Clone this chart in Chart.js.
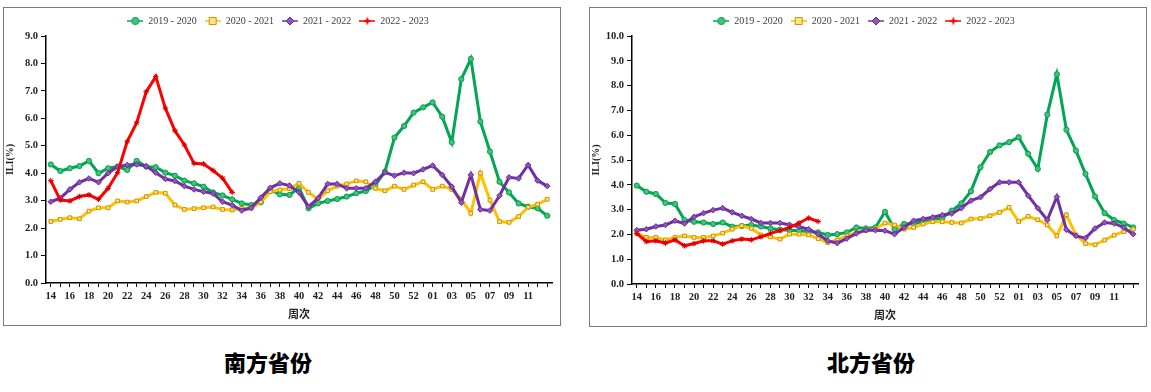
<!DOCTYPE html>
<html><head><meta charset="utf-8">
<script src="https://cdn.jsdelivr.net/npm/chart.js@4.4.1/dist/chart.umd.min.js"></script>
<style>
body{margin:0;background:#fff;width:1151px;height:392px;position:relative;overflow:hidden;}
.box{position:absolute;border:1.5px solid #7a7a7a;box-sizing:border-box;}
.cv{position:absolute;}
.title{position:absolute;font-family:"Noto Sans CJK SC",sans-serif;font-weight:900;font-size:22px;line-height:22px;color:#000;top:350px;width:200px;text-align:center;}
</style></head><body>
<div class="box" style="left:3px;top:7px;width:558px;height:319px"></div>
<div class="box" style="left:589px;top:7px;width:558px;height:320px"></div>
<canvas id="south" class="cv" width="555" height="316" style="left:4px;top:8px"></canvas>
<canvas id="north" class="cv" width="555" height="317" style="left:590px;top:8px"></canvas>
<div class="title" style="left:168px">南方省份</div>
<div class="title" style="left:771px">北方省份</div>
<script>
const weeks = ['14','15','16','17','18','19','20','21','22','23','24','25','26','27','28','29','30','31','32','33','34','35','36','37','38','39','40','41','42','43','44','45','46','47','48','49','50','51','52','53','01','02','03','04','05','06','07','08','09','10','11','12','13'];
const seriesNames = ['2019 - 2020','2020 - 2021','2021 - 2022','2022 - 2023'];

const south2019 = [4.32,4.08,4.18,4.26,4.45,4.00,4.18,4.24,4.12,4.45,4.24,4.22,4.02,3.91,3.73,3.63,3.51,3.30,3.19,3.05,2.90,2.84,2.94,3.39,3.23,3.21,3.47,2.72,2.90,2.99,3.06,3.15,3.27,3.35,3.57,4.06,5.30,5.72,6.21,6.40,6.58,6.06,5.13,7.43,8.17,5.88,4.79,3.69,3.30,2.90,2.78,2.72,2.45];
const south2020 = [2.24,2.32,2.38,2.34,2.62,2.74,2.74,2.99,2.95,2.99,3.15,3.30,3.27,2.84,2.68,2.71,2.74,2.77,2.68,2.66,2.72,2.72,2.95,3.33,3.39,3.44,3.63,3.30,3.05,3.36,3.53,3.61,3.72,3.69,3.45,3.36,3.53,3.41,3.57,3.69,3.41,3.53,3.41,3.05,2.54,4.00,3.02,2.24,2.21,2.42,2.76,2.87,3.05];
const south2021 = [2.96,3.09,3.41,3.67,3.81,3.67,4.00,4.24,4.30,4.32,4.26,4.02,3.79,3.72,3.53,3.41,3.33,3.26,2.96,2.84,2.64,2.74,3.11,3.47,3.63,3.55,3.30,2.78,3.09,3.61,3.61,3.45,3.45,3.45,3.69,4.03,3.91,4.02,4.00,4.14,4.28,3.94,3.51,2.93,3.94,2.68,2.64,3.18,3.85,3.81,4.30,3.73,3.53];
const south2022 = [3.73,3.02,2.99,3.15,3.21,3.05,3.45,4.02,5.15,5.84,6.97,7.52,6.37,5.55,5.03,4.36,4.34,4.10,3.82,3.30];

const north2019 = [3.97,3.72,3.63,3.27,3.23,2.58,2.51,2.48,2.42,2.48,2.31,2.34,2.38,2.32,2.24,2.19,2.17,2.15,2.12,2.08,1.98,2.01,2.08,2.28,2.24,2.28,2.91,2.21,2.42,2.44,2.51,2.58,2.66,2.96,3.25,3.74,4.71,5.32,5.59,5.72,5.92,5.25,4.64,6.83,8.46,6.22,5.38,4.44,3.53,2.86,2.58,2.44,2.28];
const north2020 = [2.04,1.88,1.88,1.78,1.88,1.94,1.88,1.88,1.94,2.05,2.21,2.35,2.24,1.98,1.90,1.81,2.01,2.01,1.98,1.83,1.67,1.78,1.94,2.08,2.15,2.21,2.46,2.38,2.21,2.28,2.42,2.51,2.51,2.48,2.46,2.62,2.64,2.75,2.89,3.09,2.52,2.73,2.59,2.38,1.94,2.79,1.98,1.63,1.58,1.77,1.97,2.11,2.21];
const north2021 = [2.17,2.21,2.32,2.38,2.55,2.44,2.71,2.86,2.98,3.06,2.89,2.75,2.62,2.46,2.46,2.46,2.39,2.31,2.21,2.01,1.74,1.65,1.83,2.04,2.17,2.17,2.15,2.01,2.28,2.55,2.62,2.69,2.78,2.84,3.06,3.36,3.50,3.83,4.10,4.10,4.10,3.56,3.06,2.58,3.52,2.19,1.94,1.85,2.24,2.48,2.44,2.28,2.01];
const north2022 = [2.04,1.71,1.74,1.65,1.78,1.54,1.63,1.74,1.74,1.61,1.74,1.81,1.78,1.90,2.04,2.15,2.28,2.46,2.66,2.52];

const southTicks = [0,1,2,3,4,5,6,7,8,9];
const northTicks = [0,1,2,3,4,5,6,7,8,9,10];

const styles = [
  {line:'#00A651', fill:'#45C27A', edge:'#00A04A', shape:'circle', r:2.6},
  {line:'#FFC000', fill:'#FFE38A', edge:'#C89400', shape:'rect', r:2.6},
  {line:'#7030A0', fill:'#8E55BE', edge:'#6A2C98', shape:'rectRot', r:2.8},
  {line:'#FF0000', fill:'#E00000', edge:'#D00000', shape:'star', r:2.8}
];

function legendIcon(s){
  const c = document.createElement('canvas');
  c.width = 16; c.height = 10;
  const x = c.getContext('2d');
  x.strokeStyle = s.line; x.lineWidth = 1.5;
  x.beginPath(); x.moveTo(0,5); x.lineTo(16,5); x.stroke();
  x.fillStyle = s.fill; x.strokeStyle = s.edge; x.lineWidth = 1;
  x.beginPath();
  if (s.shape==='circle'){ x.arc(8,5,3.6,0,Math.PI*2); x.fill(); x.stroke(); }
  else if (s.shape==='rect'){ x.rect(4.5,1.5,7,7); x.fill(); x.stroke(); }
  else if (s.shape==='rectRot'){ x.moveTo(8,1); x.lineTo(12,5); x.lineTo(8,9); x.lineTo(4,5); x.closePath(); x.fill(); x.stroke(); }
  else { x.fillStyle=s.line; x.moveTo(8,0.5); x.lineTo(9.2,3.8); x.lineTo(12.5,5); x.lineTo(9.2,6.2); x.lineTo(8,9.5); x.lineTo(6.8,6.2); x.lineTo(3.5,5); x.lineTo(6.8,3.8); x.closePath(); x.fill(); }
  return c;
}
const icons = styles.map(legendIcon);

function makeChart(id, series, yTicks){
  const ymax = yTicks[yTicks.length-1];
  const datasets = series.map((d,i)=>({
    label: seriesNames[i],
    data: d,
    borderColor: styles[i].line,
    backgroundColor: styles[i].fill,
    pointBackgroundColor: styles[i].fill,
    pointBorderColor: styles[i].edge,
    pointBorderWidth: 1,
    pointStyle: styles[i].shape,
    pointRadius: styles[i].r,
    borderWidth: 3,
    tension: 0,
    order: 3 - i
  }));
  return new Chart(document.getElementById(id), {
    type: 'line',
    data: {labels: weeks, datasets},
    options: {
      responsive: false,
      animation: false,
      layout: {padding: {top: 0, right: 7, left: 0, bottom: 0}},
      plugins: {
        tooltip: {enabled: false},
        legend: {
          display: true, position: 'top', align: 'center',
          labels: {
            usePointStyle: true, pointStyleWidth: 16, padding: 8, boxHeight: 10,
            color: '#404040',
            font: {family: '"Liberation Serif", serif', size: 10},
            sort: (a,b)=>a.datasetIndex-b.datasetIndex,
            generateLabels: (chart)=> chart.data.datasets.map((ds,i)=>({
              text: ds.label, pointStyle: icons[i], fillStyle: ds.borderColor,
              strokeStyle: ds.borderColor, lineWidth: 0, hidden: false, datasetIndex: i, fontColor: '#404040'
            }))
          }
        }
      },
      scales: {
        x: {
          type: 'category', offset: true,
          grid: {display: true, drawOnChartArea: false, drawTicks: true, tickLength: 4, color: '#000', offset: false},
          border: {display: true, color: '#000', width: 1.5},
          ticks: {
            autoSkip: false, maxRotation: 0, minRotation: 0, padding: 3, color: '#222',
            font: {family: '"Liberation Serif", serif', size: 10.5, weight: 'bold'},
            callback: (v, idx) => (idx % 2 === 0 && idx < weeks.length - 1) ? weeks[idx] : ''
          },
          title: {display: true, text: '周次', color: '#222', padding: {top: 2, bottom: 2},
            font: {family: '"Liberation Serif", "Noto Sans CJK SC", serif', size: 11, weight: 'bold'}},
          afterFit: (s) => { s.height = 41; }
        },
        y: {
          min: 0, max: ymax,
          afterBuildTicks: (s) => { s.ticks = yTicks.map(v => ({value: v})); },
          grid: {display: true, drawOnChartArea: false, drawTicks: true, tickLength: 5, color: '#000'},
          border: {display: true, color: '#000', width: 1.5},
          ticks: {
            padding: 3, color: '#222',
            font: {family: '"Liberation Serif", serif', size: 10.5, weight: 'bold'},
            callback: (v) => Number(v).toFixed(1)
          },
          title: {display: true, text: 'ILI(%)', color: '#222', padding: {top: 0, bottom: 0},
            font: {family: '"Liberation Serif", serif', size: 10, weight: 'bold'}},
          afterFit: (s) => { s.width = 42; }
        }
      }
    }
  });
}

makeChart('south', [south2019, south2020, south2021, south2022], southTicks);
makeChart('north', [north2019, north2020, north2021, north2022], northTicks);
</script>
</body></html>
